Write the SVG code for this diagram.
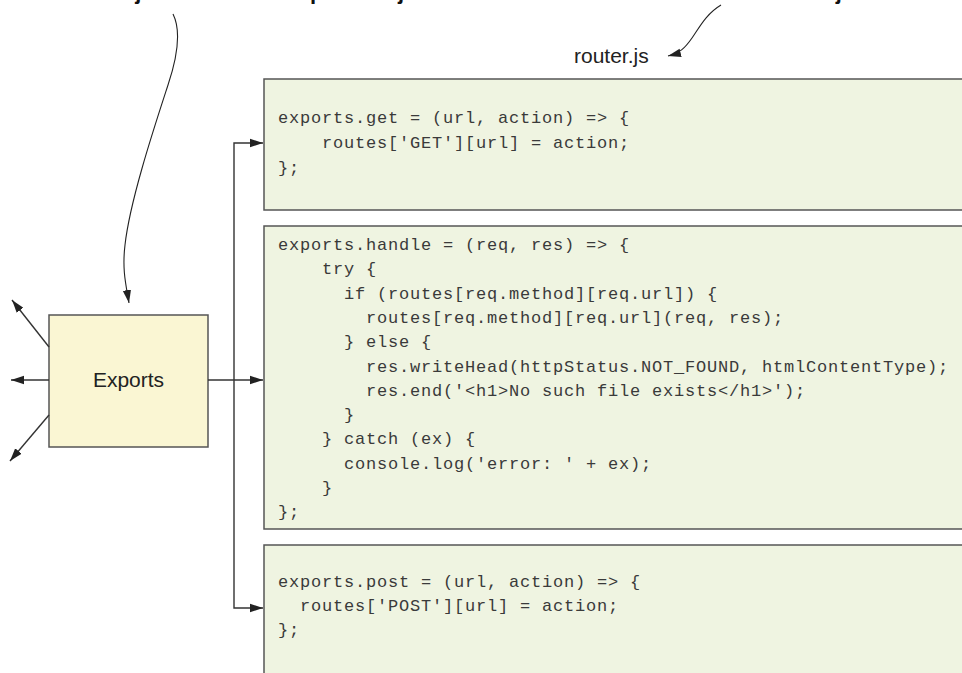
<svg xmlns="http://www.w3.org/2000/svg" width="962" height="673" viewBox="0 0 962 673">
  <style>
    .code-box { fill: #eff4e1; stroke: #555; stroke-width: 1.5; }
    .node-box { fill: #faf6d3; stroke: #555; stroke-width: 1.5; }
    .code { font-family: "Liberation Mono", "DejaVu Sans Mono", monospace; font-size: 17px; letter-spacing: 0.8px; fill: #3a3a3a; }
    .label { font-family: "Liberation Sans", Arial, sans-serif; font-size: 21px; fill: #222; }
    .note { font-family: "Liberation Sans", Arial, sans-serif; font-size: 22px; font-weight: bold; fill: #111; }
    .wire { fill: none; stroke: #333; stroke-width: 1.4; }
    .curve { fill: none; stroke: #222; stroke-width: 1.1; }
  </style>
  <defs>
    <marker id="arrow" markerUnits="userSpaceOnUse" markerWidth="14" markerHeight="10" refX="13" refY="5" orient="auto">
      <path d="M0,0.8 L13,5 L0,9.2 Z" fill="#222"/>
    </marker>
  </defs>

  <rect width="962" height="673" fill="#fff"/>

  <!-- annotation lines running off the top edge -->
  <g id="notes">
    <text class="note" x="2" y="-0.6">access to objects from the exports object.</text>
    <text class="note" x="546" y="-0.6">Functions defined in router.js</text>
  </g>

  <!-- file label -->
  <g id="router-label">
    <text class="label" x="574" y="63">router.js</text>
  </g>

  <!-- exports.get -->
  <g id="get-box">
    <rect class="code-box" x="264" y="79" width="710" height="131"/>
    <text class="code" x="278" y="123">exports.get = (url, action) => {</text>
    <text class="code" x="322" y="148">routes['GET'][url] = action;</text>
    <text class="code" x="278" y="173">};</text>
  </g>

  <!-- exports.handle -->
  <g id="handle-box">
    <rect class="code-box" x="264" y="226" width="710" height="303"/>
    <text class="code" x="278" y="250">exports.handle = (req, res) => {</text>
    <text class="code" x="322" y="274.3">try {</text>
    <text class="code" x="344" y="298.6">if (routes[req.method][req.url]) {</text>
    <text class="code" x="366" y="322.9">routes[req.method][req.url](req, res);</text>
    <text class="code" x="344" y="347.2">} else {</text>
    <text class="code" x="366" y="371.5">res.writeHead(httpStatus.NOT_FOUND, htmlContentType);</text>
    <text class="code" x="366" y="395.8">res.end('&lt;h1&gt;No such file exists&lt;/h1&gt;');</text>
    <text class="code" x="344" y="420.1">}</text>
    <text class="code" x="322" y="444.4">} catch (ex) {</text>
    <text class="code" x="344" y="468.7">console.log('error: ' + ex);</text>
    <text class="code" x="322" y="493">}</text>
    <text class="code" x="278" y="517.3">};</text>
  </g>

  <!-- exports.post -->
  <g id="post-box">
    <rect class="code-box" x="264" y="545" width="710" height="140"/>
    <text class="code" x="278" y="587">exports.post = (url, action) => {</text>
    <text class="code" x="300" y="611">routes['POST'][url] = action;</text>
    <text class="code" x="278" y="635">};</text>
  </g>

  <!-- exports object -->
  <g id="exports-node">
    <rect class="node-box" x="49" y="315" width="159" height="132"/>
    <text class="label" x="128.5" y="387" text-anchor="middle">Exports</text>
  </g>

  <g id="connectors">
    <path class="wire" d="M208,380 H263" marker-end="url(#arrow)"/>
    <path class="wire" d="M234,380 V143 H263" marker-end="url(#arrow)"/>
    <path class="wire" d="M234,380 V608 H263" marker-end="url(#arrow)"/>
    <path class="wire" d="M49,347 L12,300" marker-end="url(#arrow)"/>
    <path class="wire" d="M49,380 H11" marker-end="url(#arrow)"/>
    <path class="wire" d="M49,415 L10,461" marker-end="url(#arrow)"/>
    <path class="curve" d="M173,14 C181,30 178,55 168,85 C155,125 130,200 125,245 C122,270 126,285 129,303" marker-end="url(#arrow)"/>
    <path class="curve" d="M721,5 C706,14 699,28 692,38 C685,48 680,53 668,56" marker-end="url(#arrow)"/>
  </g>
</svg>
